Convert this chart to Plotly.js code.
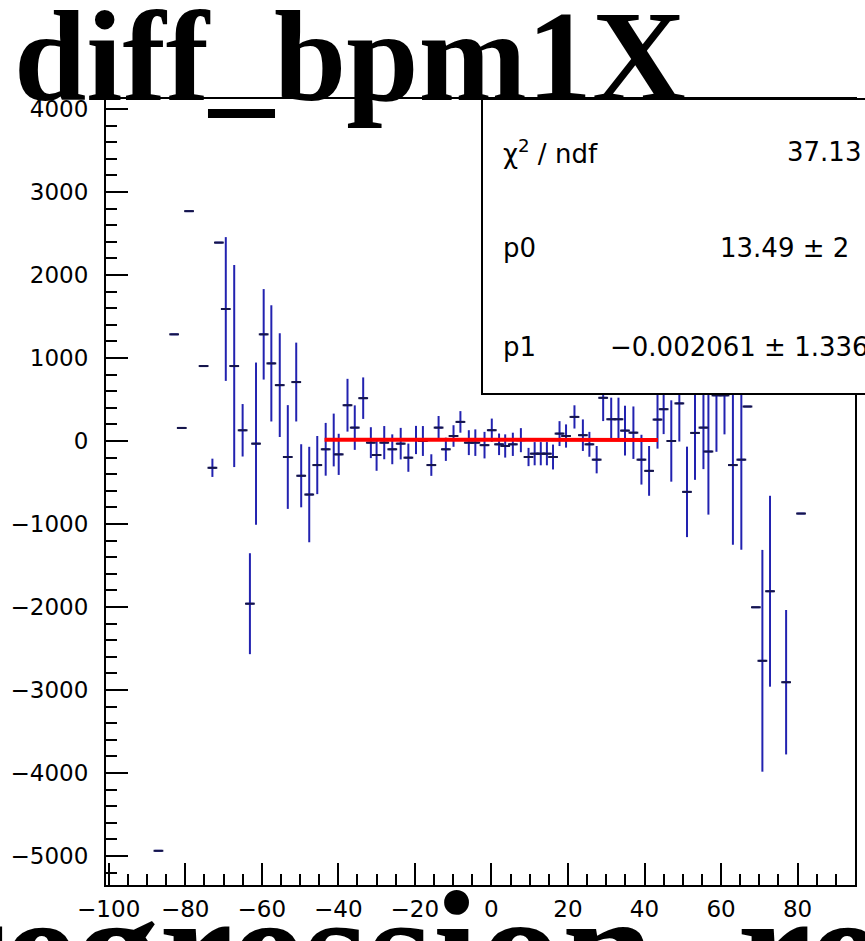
<!DOCTYPE html>
<html>
<head>
<meta charset="utf-8">
<script src="https://cdn.plot.ly/plotly-3.0.1.min.js"></script>
<style>html,body{margin:0;padding:0;background:#fff;overflow:hidden}#chart{width:865px;height:941px}</style>
</head>
<body>
<div id="chart"></div>
<script>
// Bin centres (x), bin contents (y) and vertical errors
const binX = [-87.0,-82.9,-80.9,-79.0,-75.2,-72.9,-71.2,-69.4,-67.2,-65.0,-63.1,-61.5,-59.5,-57.5,-55.3,-53.2,-51.0,-49.7,-47.6,-45.5,
  -43.3,-41.2,-39.9,-37.6,-35.7,-33.5,-31.5,-30.0,-28.0,-25.9,-23.7,-21.7,-19.7,-17.9,-15.7,-13.8,-11.9,-9.9,-8.1,-5.9,-4.2,-1.8,
  0.1,2.0,3.6,5.6,7.7,9.7,11.3,12.9,14.5,16.1,17.8,19.5,21.7,23.9,25.6,27.5,29.2,31.3,33.2,34.9,37.1,39.2,41.2,43.4,45.0,
  47.0,49.1,51.1,53.2,55.4,56.7,58.8,60.9,63.1,65.3,66.9,69.1,70.8,72.8,77.0,80.9];
const binY = [-4937,1285,157,2769,903,-323,2390,1590,903,129,-1960,-32,1285,935,673,-193,710,-419,-645,-290,
  -100,12,-161,431,161,516,-20,-169,-20,-100,-32,-201,12,0,-290,161,-100,60,230,-20,-20,-50,
  130,-40,-60,-40,10,-193,-153,-153,-153,-193,89,60,290,70,-40,-225,520,262,262,125,100,-225,-360,258,383,
  0,453,-613,97,161,-127,550,550,-290,-225,415,-2003,-2648,-1810,-2906,-874];
const binErr = [0,0,0,0,0,110,0,866,1217,316,608,977,545,700,625,625,475,380,575,350,
  318,318,248,318,268,250,186,190,200,180,190,170,170,180,130,140,140,130,130,150,160,160,
  140,130,140,140,145,110,140,140,140,150,150,140,140,190,150,165,280,260,260,300,316,300,300,350,300,
  490,460,545,565,500,760,680,470,960,1085,0,0,1336,1150,870,0];
const binHalfWidth = 1.0;

// Linear fit pol1 over the fit range
const fitRange = [-43.6, 43.5];
const p0 = 13.49, p1 = -0.002061;

// Tick labels
const xTickVals = [-100,-80,-60,-40,-20,0,20,40,60,80];
const xTickText = ['\u2212100','\u221280','\u221260','\u221240','\u221220','0','20','40','60','80'];
const yTickVals = [4000,3000,2000,1000,0,-1000,-2000,-3000,-4000,-5000];
const yTickText = ['4000','3000','2000','1000','0','\u22121000','\u22122000','\u22123000','\u22124000','\u22125000'];

// Stats box text
const statNames = ['χ<sup>2</sup> / ndf','p0','p1'];
const statValues = ['37.13','13.49 ± 2','\u22120.002061 ± 1.336'];

const W = 865, H = 941, L = 106, R = 855, T = 99, B = 885;
const px = X => (X - L) / (R - L);
const py = Y => (B - Y) / (B - T);

const dataTrace = {
  type: 'scatter', mode: 'markers', x: binX, y: binY,
  marker: {symbol: 'line-ew', size: 7, color: '#15154a', line: {width: 2, color: '#15154a'}},
  error_y: {type: 'data', array: binErr, visible: true, color: '#2222b0', thickness: 2, width: 0},
  error_x: {type: 'constant', value: binHalfWidth, visible: true, color: '#2222b0', thickness: 2, width: 0},
  hoverinfo: 'skip', cliponaxis: true
};
const fitTrace = {
  type: 'scatter', mode: 'lines', x: fitRange, y: fitRange.map(v => p0 + p1 * v),
  line: {color: '#ff0000', width: 4}, hoverinfo: 'skip'
};

const annotations = [
  {text: 'diff_bpm1X', xref: 'paper', yref: 'paper', x: px(12), y: py(56), xanchor: 'left', yanchor: 'middle',
   showarrow: false, font: {family: 'Liberation Serif', size: 130, color: '#000', weight: 'bold'}},
  {text: 'regression_re', xref: 'paper', yref: 'paper', x: px(-70), y: py(949), xanchor: 'left', yanchor: 'middle',
   showarrow: false, font: {family: 'Liberation Serif', size: 166, color: '#000', weight: 'bold'}}
];
const statY = [152, 248, 347];
const statValX = [785, 718, 608];
for (let i = 0; i < 3; i++) {
  annotations.push({text: statNames[i], xref: 'paper', yref: 'paper', x: px(501), y: py(statY[i]), xanchor: 'left', yanchor: 'middle',
    showarrow: false, font: {family: 'DejaVu Sans', size: 26, color: '#000'}});
  annotations.push({text: statValues[i], xref: 'paper', yref: 'paper', x: px(statValX[i]), y: py(statY[i]), xanchor: 'left', yanchor: 'middle',
    showarrow: false, font: {family: 'DejaVu Sans', size: 26, color: '#000'}});
}

const layout = {
  width: W, height: H,
  margin: {l: L, r: W - R, t: T, b: H - B, pad: 0},
  paper_bgcolor: '#fff', plot_bgcolor: '#fff',
  showlegend: false,
  xaxis: {range: [-100.7, 95], showgrid: false, zeroline: false, showline: true, linecolor: '#000', linewidth: 2, mirror: true,
    tickmode: 'array', tickvals: xTickVals, ticktext: xTickText, ticks: 'inside', ticklen: 22, tickwidth: 2, tickcolor: '#000',
    ticklabelstandoff: 2,
    minor: {tickmode: 'linear', tick0: 0, dtick: 5, ticks: 'inside', ticklen: 11, tickwidth: 2, tickcolor: '#000', showgrid: false},
    tickfont: {family: 'DejaVu Sans', size: 23, color: '#000'}},
  yaxis: {range: [-5349, 4120], showgrid: false, zeroline: false, showline: true, linecolor: '#000', linewidth: 2, mirror: true,
    tickmode: 'array', tickvals: yTickVals, ticktext: yTickText, ticks: 'inside', ticklen: 22, tickwidth: 2, tickcolor: '#000',
    ticklabelstandoff: 11,
    minor: {tickmode: 'linear', tick0: 0, dtick: 200, ticks: 'inside', ticklen: 11, tickwidth: 2, tickcolor: '#000', showgrid: false},
    tickfont: {family: 'DejaVu Sans', size: 23, color: '#000'}},
  shapes: [
    {type: 'rect', xref: 'paper', yref: 'paper', x0: px(482), x1: px(900), y0: py(394), y1: py(99),
     fillcolor: '#fff', line: {color: '#000', width: 2}, layer: 'above'}
  ],
  annotations: annotations
};

Plotly.newPlot('chart', [dataTrace, fitTrace], layout, {displayModeBar: false, staticPlot: true});
</script>
</body>
</html>
